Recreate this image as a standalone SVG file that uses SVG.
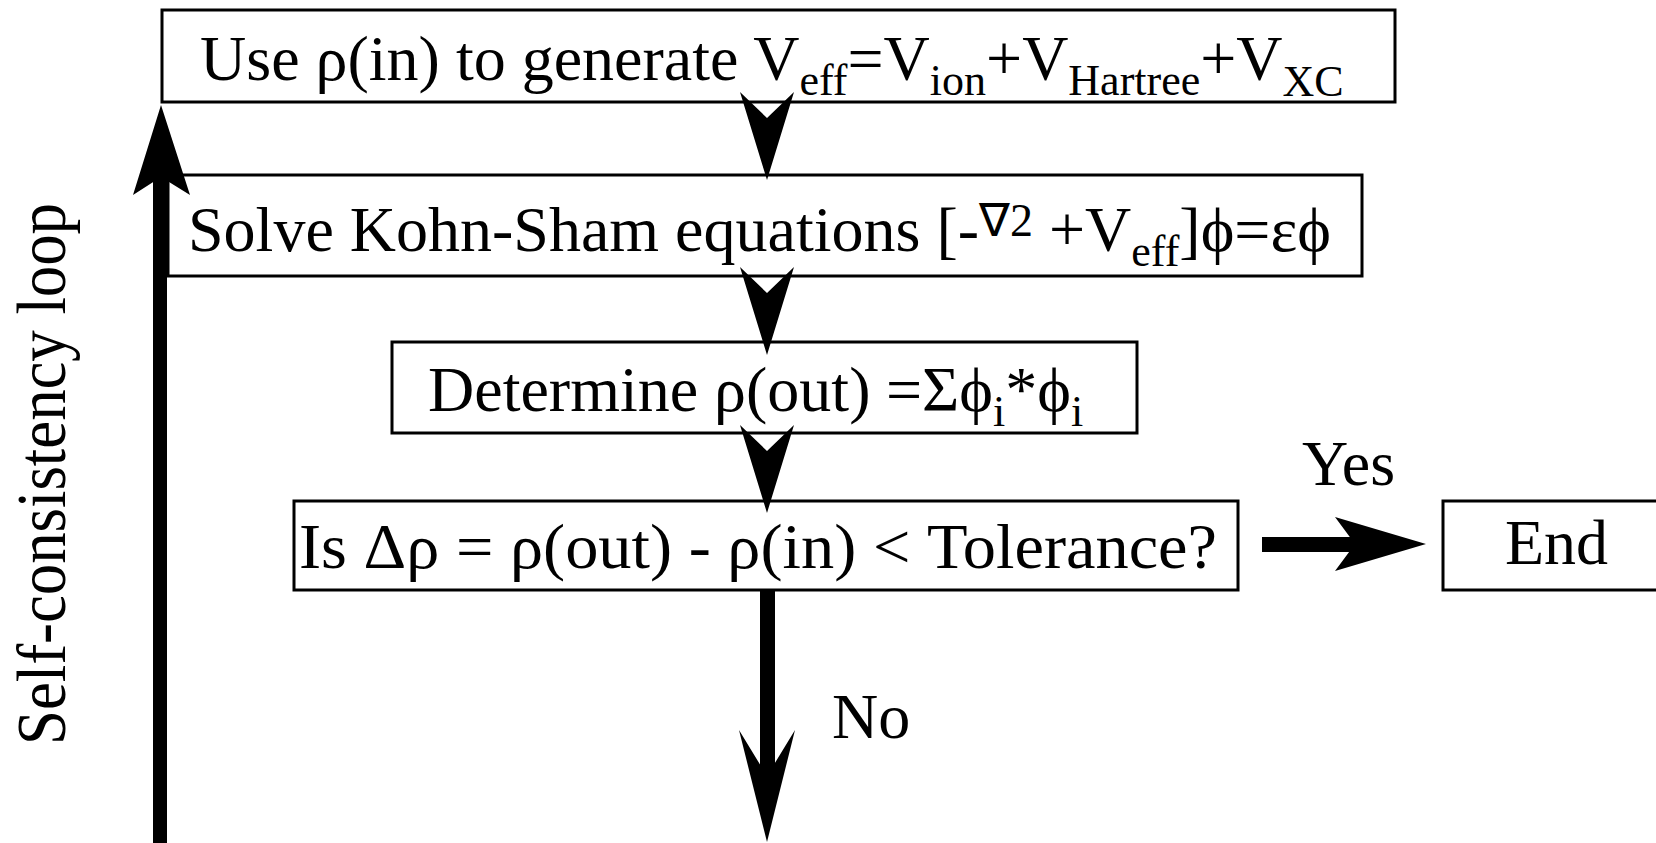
<svg xmlns="http://www.w3.org/2000/svg" width="1656" height="843" viewBox="0 0 1656 843">
<style>
.box{fill:#fff;stroke:#000;stroke-width:3}
.t{font-family:"Liberation Serif","Times New Roman",serif;font-size:64px;fill:#000}
.s{font-size:44px}
.sp{font-size:46px}
.lbl{font-family:"Liberation Serif","Times New Roman",serif;font-size:70px;fill:#000}
</style>
<defs>
<path id="dhead" d="M0,0 L-27,-88 L0,-62 L27,-88 Z" fill="#000"/>
</defs>
<rect width="1656" height="843" fill="#fff"/>
<g id="n1">
<rect class="box" x="162" y="10" width="1233" height="92"/>
<text class="t" x="200" y="80">Use ρ(in) to generate V<tspan class="s" dy="15">eff</tspan><tspan dy="-15">=V</tspan><tspan class="s" dy="15">ion</tspan><tspan dy="-15">+V</tspan><tspan class="s" dy="15">Hartree</tspan><tspan dy="-15">+V</tspan><tspan class="s" dy="16">XC</tspan></text>
</g>
<g id="n2">
<rect class="box" x="168" y="175" width="1194" height="101"/>
<text class="t" x="188" y="251">Solve Kohn-Sham equations [-<tspan class="sp" dy="-15">∇2</tspan><tspan dy="15"> +V</tspan><tspan class="s" dy="15">eff</tspan><tspan dy="-15">]ϕ=εϕ</tspan></text>
</g>
<g id="n3">
<rect class="box" x="392" y="342" width="745" height="91"/>
<text class="t" x="428" y="411">Determine ρ(out)<tspan x="886">=Σϕ</tspan><tspan class="s" dy="15">i</tspan><tspan dy="-15">*ϕ</tspan><tspan class="s" dy="15">i</tspan></text>
</g>
<g id="n4">
<rect class="box" x="294" y="501" width="944" height="89"/>
<text class="t" x="299" y="568" textLength="918" lengthAdjust="spacingAndGlyphs">Is Δρ = ρ(out) - ρ(in) &lt; Tolerance?</text>
</g>
<g id="n5">
<rect class="box" x="1443" y="501" width="220" height="89"/>
<text class="t" x="1505" y="564">End</text>
</g>
<g id="labels">
<text class="t" x="1302" y="485">Yes</text>
<text class="t" x="832" y="738">No</text>
<text class="lbl" transform="translate(65,745) rotate(-90)" x="0" y="0" textLength="542" lengthAdjust="spacingAndGlyphs">Self-consistency loop</text>
</g>
<g id="connectors">
<use href="#dhead" x="767" y="180"/>
<use href="#dhead" x="767" y="355"/>
<use href="#dhead" x="767" y="513"/>
<rect x="153" y="170" width="14" height="673" fill="#000"/>
<path d="M161,105 L190,195 L161,177 L133,195 Z" fill="#000"/>
<rect x="1262" y="537" width="95" height="15" fill="#000"/>
<path d="M1426,544 L1335,517 L1355,544 L1335,571 Z" fill="#000"/>
<rect x="760" y="590" width="15" height="190" fill="#000"/>
<path d="M767,842 L739,730 L767,776 L795,730 Z" fill="#000"/>
</g>
</svg>
